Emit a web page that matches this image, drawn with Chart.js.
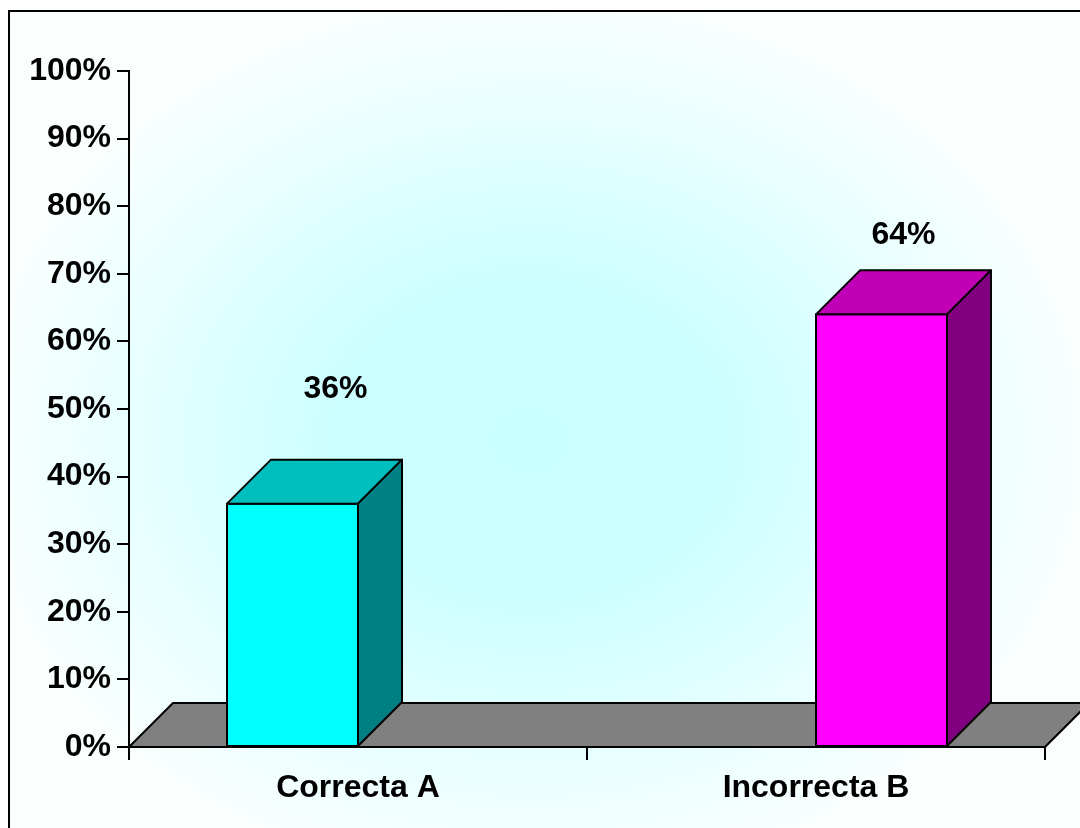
<!DOCTYPE html>
<html>
<head>
<meta charset="utf-8">
<script src="https://cdn.jsdelivr.net/npm/chart.js@4/dist/chart.umd.min.js"></script>
<style>
    html, body { margin: 0; padding: 0; background: #fff; }
    #wrap { width: 1080px; height: 828px; }
</style>
</head>
<body>
<div id="wrap"><canvas id="chart" width="1080" height="828"></canvas></div>
<script>
const categories = ['Correcta A', 'Incorrecta B'];
const percentValues = [36, 64];
const valueLabels = ['36%', '64%'];

const depth = 44;
const fontFamily = '"Liberation Sans", Arial, sans-serif';
const barStyles = [
    { front: '#00ffff', top: '#00bfbf', side: '#008080' },
    { front: '#ff00ff', top: '#bf00b4', side: '#800080' },
];
const labelOffsets = [
    { dx: -1, dy: -70 },
    { dx: -22, dy: -35 },
];

function polygon(ctx, points, fill) {
    ctx.beginPath();
    ctx.moveTo(points[0][0], points[0][1]);
    points.slice(1).forEach((p) => ctx.lineTo(p[0], p[1]));
    ctx.closePath();
    ctx.fillStyle = fill;
    ctx.fill();
    ctx.stroke();
}

const backgroundPlugin = {
    id: 'background',
    beforeDraw(chart) {
        const ctx = chart.ctx;
        ctx.save();
        ctx.fillStyle = '#ffffff';
        ctx.fillRect(0, 0, chart.width, chart.height);

        ctx.fillStyle = '#fafffe';
        ctx.fillRect(9, 11, 1100, 850);

        ctx.save();
        ctx.beginPath();
        ctx.rect(9, 11, 1100, 850);
        ctx.clip();
        ctx.translate(530, 440);
        ctx.scale(1, 0.8);
        const grad = ctx.createRadialGradient(0, 0, 0, 0, 0, 560);
        grad.addColorStop(0, '#c8ffff');
        grad.addColorStop(0.35, '#ccffff');
        grad.addColorStop(0.7, '#e6ffff');
        grad.addColorStop(1, '#fafffe');
        ctx.fillStyle = grad;
        ctx.fillRect(-600, -600, 1200, 1200);
        ctx.restore();

        ctx.strokeStyle = '#000';
        ctx.lineWidth = 2;
        ctx.strokeRect(9, 11, 1100, 850);
        ctx.restore();
    },
};

const bars3dPlugin = {
    id: 'bars3d',
    beforeDatasetsDraw(chart) {
        const ctx = chart.ctx;
        const area = chart.chartArea;
        const y0 = chart.scales.y.getPixelForValue(0);
        ctx.save();
        ctx.strokeStyle = '#000';
        ctx.lineWidth = 2;
        ctx.lineJoin = 'round';
        polygon(ctx, [
            [area.left, y0],
            [area.left + depth, y0 - depth],
            [area.right + depth, y0 - depth],
            [area.right, y0],
        ], '#808080');
        ctx.restore();
    },
    afterDatasetsDraw(chart) {
        const ctx = chart.ctx;
        const area = chart.chartArea;
        const mid = (area.left + area.right) / 2;
        const meta = chart.getDatasetMeta(0);
        ctx.save();
        ctx.strokeStyle = '#000';
        ctx.lineWidth = 2;
        ctx.lineJoin = 'round';
        meta.data.forEach((bar, i) => {
            const w = bar.width;
            // bars sit pushed outward from the middle of the plot
            const shift = Math.sign(bar.x - mid) * w / 2;
            const l = bar.x + shift - w / 2;
            const r = l + w;
            const top = bar.y;
            const base = bar.base;
            const style = barStyles[i];
            polygon(ctx, [[l, base], [l, top], [r, top], [r, base]], style.front);
            polygon(ctx, [[l, top], [l + depth, top - depth], [r + depth, top - depth], [r, top]], style.top);
            polygon(ctx, [[r, base], [r, top], [r + depth, top - depth], [r + depth, base - depth]], style.side);

            const off = labelOffsets[i];
            ctx.fillStyle = '#000';
            ctx.font = 'bold 32px ' + fontFamily;
            ctx.textAlign = 'center';
            ctx.textBaseline = 'middle';
            ctx.fillText(valueLabels[i], (l + r) / 2 + depth + off.dx, top - depth + off.dy);
        });
        ctx.restore();
    },
};

new Chart(document.getElementById('chart'), {
    type: 'bar',
    data: {
        labels: categories,
        datasets: [{
            data: percentValues,
            backgroundColor: 'rgba(0,0,0,0)',
            borderWidth: 0,
            barThickness: 131,
        }],
    },
    options: {
        responsive: false,
        animation: false,
        events: [],
        layout: { padding: { top: 71, right: 35, left: 0, bottom: 0 } },
        plugins: {
            legend: { display: false },
            tooltip: { enabled: false },
        },
        scales: {
            x: {
                offset: true,
                grid: {
                    offset: true,
                    drawOnChartArea: false,
                    drawTicks: true,
                    tickLength: 13,
                    color: '#000',
                    lineWidth: 2,
                },
                border: { display: true, color: '#000', width: 2 },
                ticks: {
                    color: '#000',
                    padding: 9,
                    font: { family: fontFamily, size: 32, weight: 'bold' },
                },
                afterFit(scale) { scale.height = 81; },
            },
            y: {
                min: 0,
                max: 100,
                grid: {
                    drawOnChartArea: false,
                    drawTicks: true,
                    tickLength: 12,
                    color: '#000',
                    lineWidth: 2,
                },
                border: { display: true, color: '#000', width: 2 },
                ticks: {
                    stepSize: 10,
                    color: '#000',
                    padding: 6,
                    font: { family: fontFamily, size: 32, weight: 'bold' },
                    callback: (v) => v + '%',
                },
                afterFit(scale) { scale.width = 129; },
            },
        },
    },
    plugins: [backgroundPlugin, bars3dPlugin],
});
</script>
</body>
</html>
